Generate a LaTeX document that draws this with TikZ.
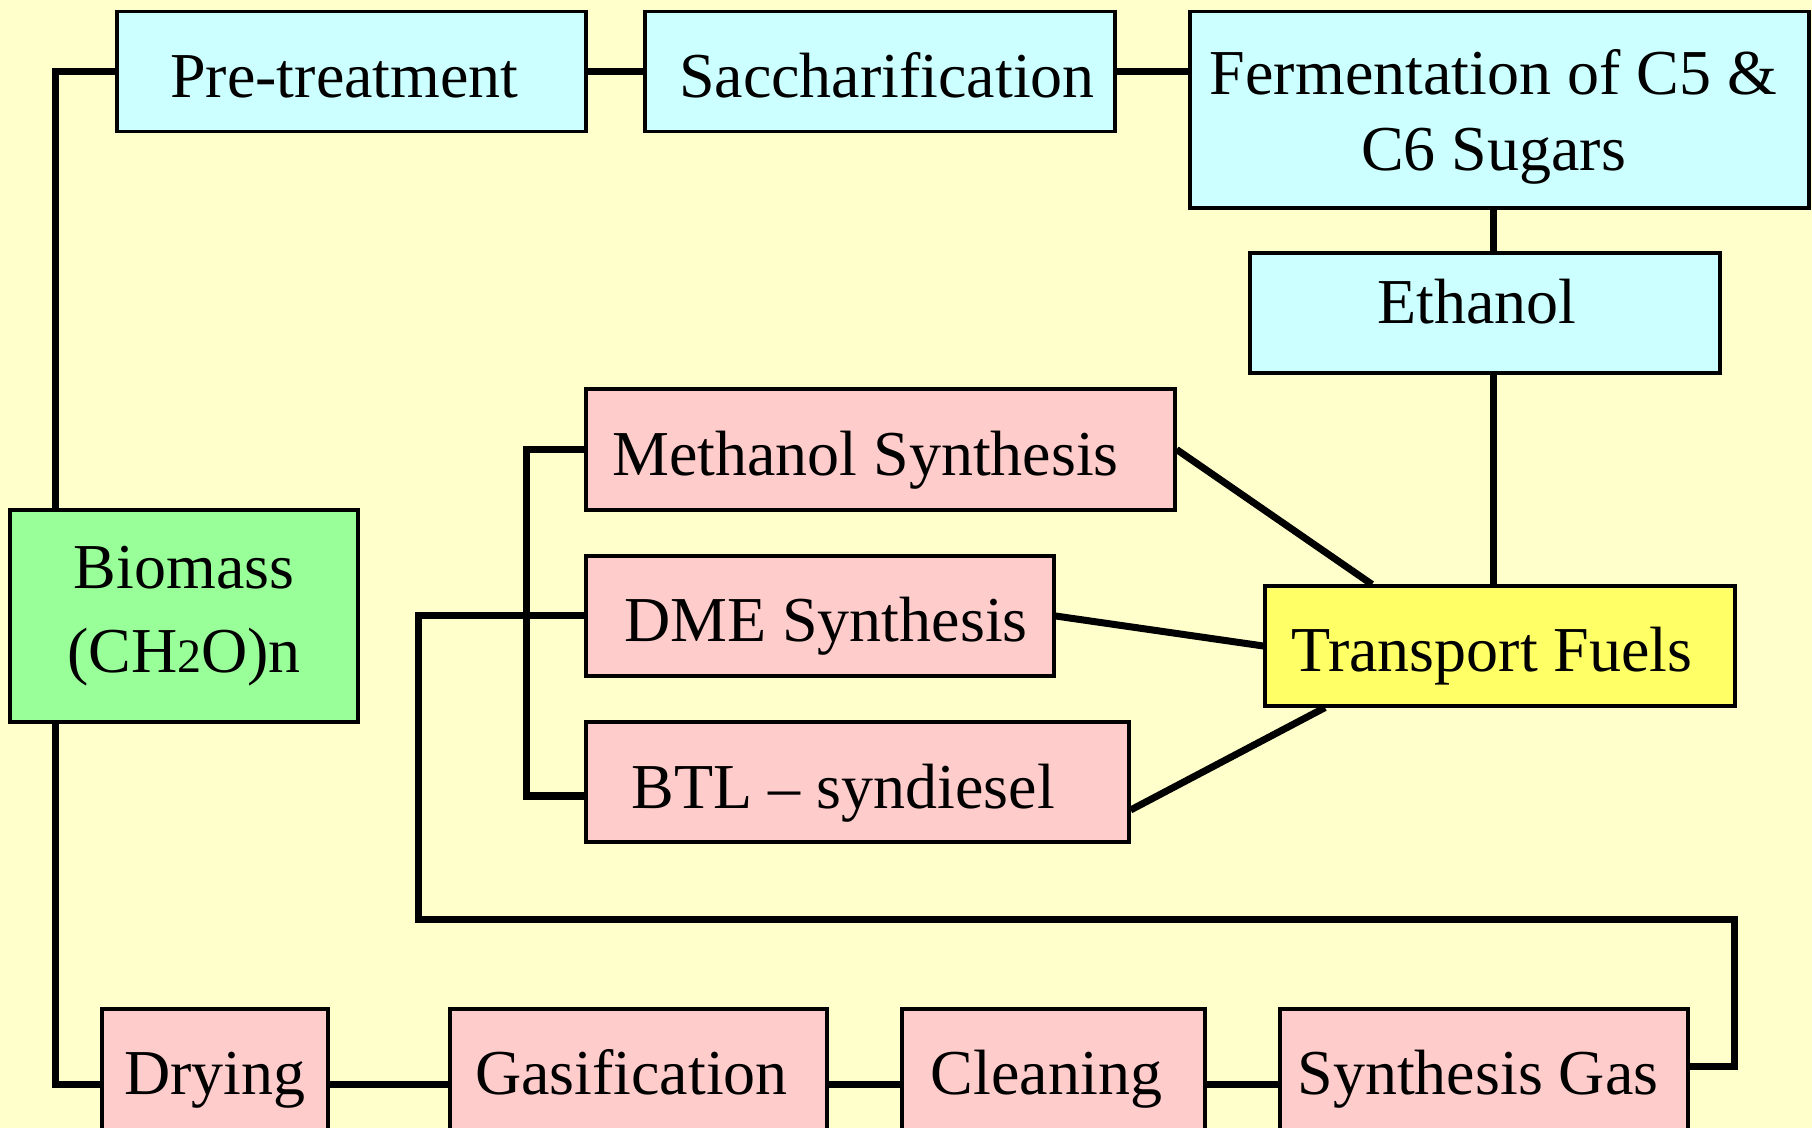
\documentclass[tikz,border=0pt]{standalone}
\usepackage{fontspec}
\setmainfont{Liberation Serif}
\usetikzlibrary{calc}
\definecolor{bg}{HTML}{FFFFCC}
\definecolor{cyanbox}{HTML}{CCFFFF}
\definecolor{pinkbox}{HTML}{FFCCCC}
\definecolor{greenbox}{HTML}{99FF99}
\definecolor{yellowbox}{HTML}{FFFF66}
\begin{document}
\begin{tikzpicture}[x=0.5pt,y=-0.5pt,
  stagebox/.style={draw=black,line width=1.6pt,inner sep=0pt,align=center,
    font=\fontsize{32}{38}\selectfont},
  midtext/.style={text height=26pt,text depth=0pt},
  lowtext/.style={text height=10pt,text depth=0pt},
  conn/.style={draw=black,line width=3.5pt,line join=miter}]
\useasboundingbox (0,0) rectangle (1812,1128);
\clip (0,0) rectangle (1812,1128);
\fill[bg] (0,0) rectangle (1812,1128);
\coordinate (lx) at (55.5,0);
\coordinate (vx) at (1493,0);
\coordinate (bx) at (526,0);
\coordinate (lp) at (418,919);
\coordinate (rp) at (1734.5,1066.6);
% boxes
\node[stagebox,midtext,fill=cyanbox,minimum width=234.5pt,minimum height=60pt] (pre) at (351.5,71.75) {Pre-treatment\hspace*{7pt}};
\node[stagebox,midtext,fill=cyanbox,minimum width=235pt,minimum height=60pt] (sac) at (880,71.75) {\hspace*{7pt}Saccharification};
\node[stagebox,fill=cyanbox,minimum width=309.5pt,minimum height=98.25pt] (fer) at (1499.5,109.75) {\rule{0pt}{30pt}Fermentation of C5 \&\hspace*{6pt}\\C6 Sugars\hspace*{6pt}};
\node[stagebox,fill=cyanbox,text height=11pt,text depth=0pt,minimum width=235pt,minimum height=60pt] (eth) at (1485,313) {Ethanol\hspace*{8pt}};
\node[stagebox,midtext,fill=pinkbox,minimum width=294.5pt,minimum height=60.5pt] (met) at (880.5,449.5) {Methanol Synthesis\hspace*{15pt}};
\node[stagebox,midtext,fill=pinkbox,minimum width=234pt,minimum height=60pt] (dme) at (820,616) {\hspace*{6pt}DME Synthesis};
\node[stagebox,midtext,fill=pinkbox,minimum width=271.5pt,minimum height=60pt] (btl) at (857.5,782) {BTL – syndiesel\hspace*{14pt}};
\node[stagebox,midtext,fill=yellowbox,minimum width=235pt,minimum height=60pt] (tf) at (1500,646) {Transport Fuels\hspace*{8pt}};
\node[stagebox,fill=greenbox,minimum width=174pt,minimum height=106pt,font=\fontsize{32}{42}\selectfont] (bio) at (184,616) {Biomass\\(CH{\fontsize{24}{28}\selectfont 2}O)n};
\node[stagebox,lowtext,fill=pinkbox,minimum width=113pt,minimum height=75pt] (dry) at (215,1084) {Drying};
\node[stagebox,lowtext,fill=pinkbox,minimum width=188.5pt,minimum height=75pt] (gas) at (638.5,1084) {Gasification\hspace*{7pt}};
\node[stagebox,lowtext,fill=pinkbox,minimum width=151.5pt,minimum height=75pt] (cle) at (1053.5,1084) {Cleaning\hspace*{7pt}};
\node[stagebox,lowtext,fill=pinkbox,minimum width=204pt,minimum height=75pt] (syn) at (1484,1084) {Synthesis Gas\hspace*{6pt}};
% connectors
\draw[conn] (bio.north -| lx) |- (pre.west);
\draw[conn] (pre.east) -- (sac.west);
\draw[conn] (sac.east) -- (sac.east -| fer.west);
\draw[conn] (fer.south -| vx) -- (eth.north -| vx);
\draw[conn] (eth.south -| vx) -- (tf.north -| vx);
\draw[conn] (met.east) -- ([xshift=-64pt]tf.north);
\draw[conn] (dme.east) -- (tf.west);
\draw[conn] ([yshift=-14pt]btl.east) -- ([xshift=-87.5pt]tf.south);
\draw[conn] (met.west) -- (met.west -| bx) -- ([yshift=-7pt]btl.west -| bx) -- ([yshift=-7pt]btl.west);
\draw[conn] (dme.west) -| (lp) -| (rp) -- (rp -| syn.east);
\draw[conn] (bio.south -| lx) |- (dry.west);
\draw[conn] (dry.east) -- (gas.west);
\draw[conn] (gas.east) -- (cle.west);
\draw[conn] (cle.east) -- (syn.west);
\end{tikzpicture}
\end{document}
